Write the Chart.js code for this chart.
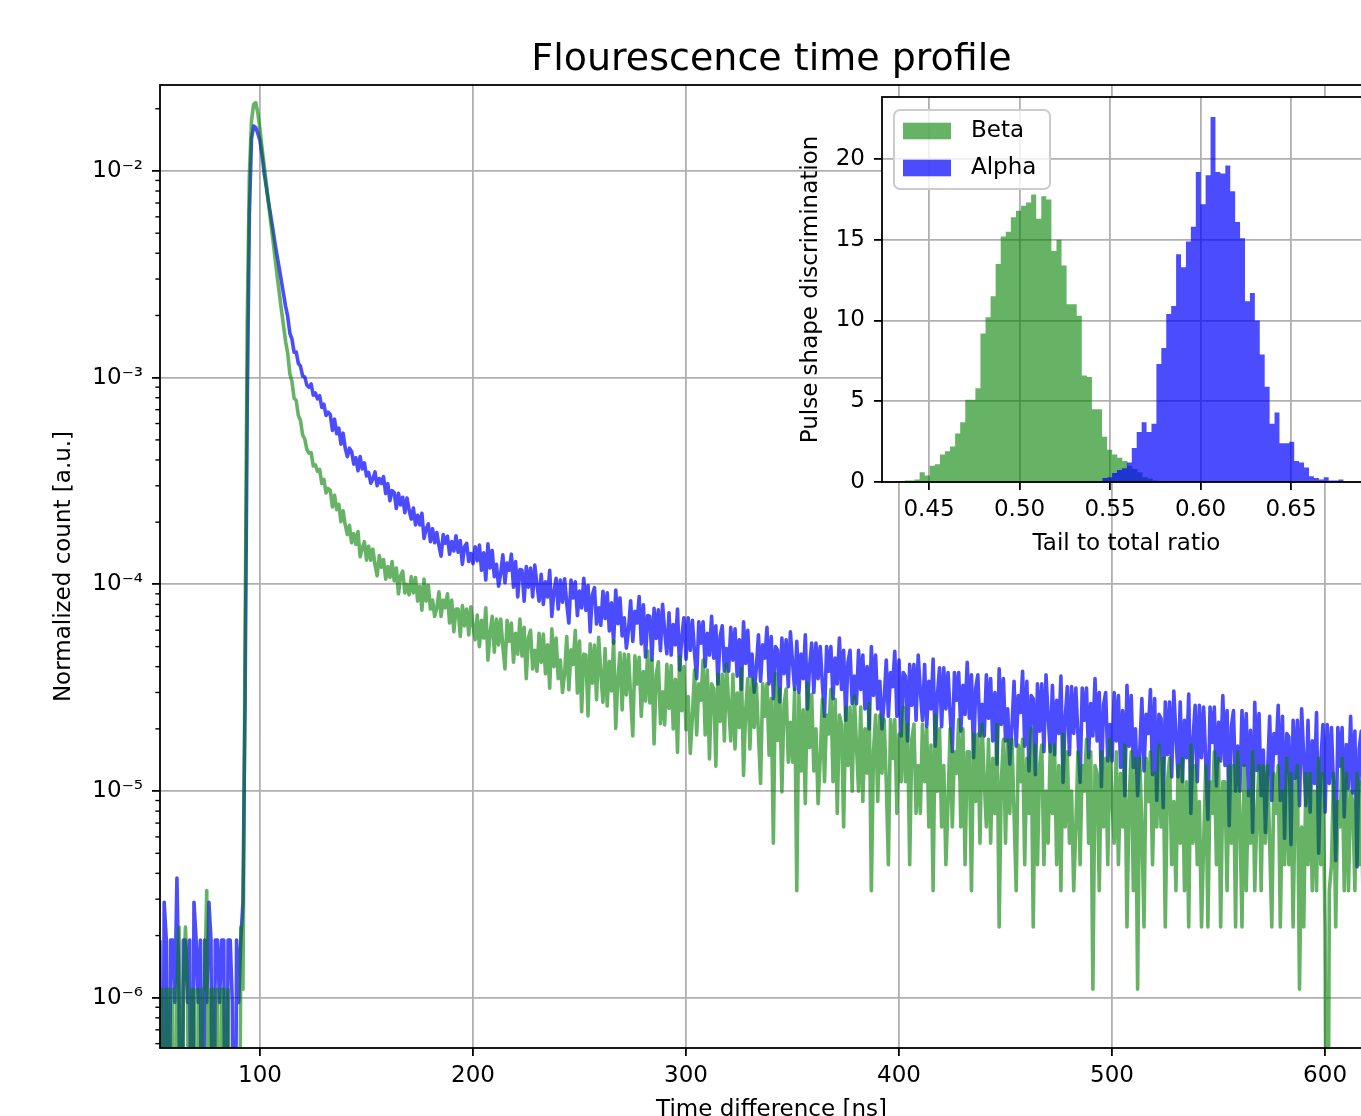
<!DOCTYPE html>
<html>
<head>
<meta charset="utf-8">
<title>Flourescence time profile</title>
<script src="https://cdn.jsdelivr.net/npm/chart.js@4.4.1/dist/chart.umd.min.js"></script>
<style>
  html, body { margin: 0; padding: 0; overflow: hidden; background: #fff; }
  #wrap { position: relative; width: 1400px; height: 1140px; }
  #mainChart { position: absolute; left: 0; top: 0; }
  #insetChart { position: absolute; left: 700px; top: 0; }
</style>
</head>
<body>
<div id="wrap">
  <canvas id="mainChart" width="1400" height="1140"></canvas>
  <canvas id="insetChart" width="700" height="600"></canvas>
</div>
<script>
// Time profile: 1 ns bins starting at 53 ns, values in units of 1e-6 (normalized count)
const timeStartNs = 53;
const timeBinNs = 1;

const betaProfile = [
  0, 1.1, 0, 1.1, 1.1, 0, 1.1, 0, 1.1, 2.2,
  0, 1.1, 2.2, 1.1, 0, 1.1, 1.1, 0, 1.1, 0,
  1.1, 1.1, 3.3, 0, 1.1, 1.1, 0, 1.1, 0, 1.1,
  1.1, 0, 1.1, 0, 0, 0, 0, 0, 2.2, 1.1,
  55, 1800, 9500, 17500, 21000, 21400, 19000, 15800, 12800, 10500,
  8600, 7000, 5700, 4700, 3850, 3150, 2600, 2150, 1800, 1500,
  1314, 1047, 957, 795, 776, 656, 621, 529, 505, 450,
  431, 434, 374, 379, 352, 360, 308, 322, 277, 291,
  285, 237, 270, 230, 244, 201, 227, 194, 174, 193,
  159, 176, 156, 180, 136, 150, 161, 131, 153, 131,
  148, 124, 110, 138, 121, 132, 106, 122, 108, 129,
  104, 120, 90, 110, 116, 91, 100, 89, 109, 91,
  108, 83, 98, 75, 106, 83, 99, 76, 84, 70,
  77, 92, 70, 84, 77, 90, 65, 84, 59, 76,
  76, 56, 79, 63, 76, 57, 78, 63, 54, 71,
  50, 67, 55, 77, 43, 58, 70, 47, 68, 51,
  68, 50, 39, 67, 53, 65, 42, 58, 46, 68,
  45, 62, 35, 55, 60, 39, 48, 38, 58, 42,
  57.5, 37, 51, 31.5, 61, 40, 55, 35, 43, 30,
  36.9, 55.9, 30.9, 48.3, 41, 59.9, 29.8, 53.2, 24.2, 46,
  45.6, 23.1, 51.6, 33.3, 50.9, 27.7, 55.4, 37, 26.9, 48.9,
  25.8, 42.4, 30.5, 53.3, 20.1, 35, 46.7, 24.7, 46, 29.2,
  45.8, 28.6, 18.5, 45.1, 33, 44.4, 23, 37.9, 27.3, 47.6,
  26.7, 43.1, 16.9, 36.6, 42.2, 21.2, 30.2, 20.9, 41.1, 25.1,
  40.5, 20, 34.7, 15.4, 44.8, 24.5, 40, 19.8, 28.7, 15.2,
  23, 38.5, 18.7, 33, 27.5, 43, 18.7, 38.5, 14.3, 33,
  31.3, 13.2, 36.7, 21.7, 36.7, 17.5, 41, 26, 17.5, 36.7,
  16, 29.8, 20.3, 39.2, 11.9, 24.5, 35, 16, 35, 20.3,
  33, 19, 10.9, 33, 23, 33, 14.9, 28, 5.6, 37,
  17.6, 31.2, 9.9, 26.3, 31.2, 13.8, 21.5, 13.8, 31.2, 3.3,
  29.4, 12.5, 24.7, 8.7, 33.2, 16.2, 29.4, 12.5, 20, 8.7,
  14.4, 27.8, 11.1, 23.3, 18.9, 31.1, 11.1, 27.8, 7.8, 23.3,
  21.1, 6.7, 25.5, 13.3, 25.5, 10, 28.9, 16.7, 10, 25.5,
  8.9, 20, 12.2, 26.6, 3.3, 15.5, 23.3, 8.9, 23.3, 12.2,
  22.2, 11.1, 4.4, 22.2, 14.4, 22.2, 7.8, 18.9, 11.1, 25.5,
  11.1, 21.1, 4.4, 17.8, 21.1, 7.8, 13.3, 7.8, 21.1, 11.1,
  20, 6.7, 16.7, 3.3, 23.3, 10, 20, 6.7, 13.3, 4.4,
  8.9, 20, 6.7, 15.5, 12.2, 22.2, 6.7, 20, 4.4, 15.5,
  15.5, 3.3, 18.9, 8.9, 18.9, 5.6, 21.1, 11.1, 6.7, 17.8,
  5.6, 14.4, 7.8, 21.1, 2.2, 11.1, 17.8, 5.6, 17.8, 7.8,
  17.8, 7.8, 3.3, 16.7, 11.1, 17.8, 4.4, 14.4, 7.8, 20,
  2.2, 16.7, 4.4, 13.3, 16.7, 4.4, 10, 5.6, 16.7, 7.8,
  16.7, 4.4, 13.3, 3.3, 18.9, 6.7, 15.5, 5.6, 10, 3.3,
  6.7, 15.5, 4.4, 13.3, 10, 17.8, 5.6, 15.5, 1.1, 13.3,
  12.2, 3.3, 15.5, 6.7, 14.4, 4.4, 17.8, 8.9, 5.6, 15.5,
  4.4, 12.2, 6.7, 16.7, 2.2, 8.9, 15.5, 3.3, 14.4, 1.1,
  14.4, 6.7, 2.2, 14.4, 8.9, 15.5, 4.4, 12.2, 6.7, 16.7,
  6.7, 14.4, 2.2, 11.1, 14.4, 4.4, 8.9, 3.3, 13.3, 5.6,
  14.4, 3.3, 11.1, 2.2, 16.7, 5.6, 13.3, 4.4, 8.9, 2.2,
  5.6, 13.3, 2.2, 11.1, 7.8, 15.5, 4.4, 14.4, 2.2, 11.1,
  11.1, 3.3, 13.3, 5.6, 13.3, 2.2, 15.5, 7.8, 2.2, 13.3,
  3.3, 10, 5.6, 15.5, 3.3, 7.8, 13.3, 3.3, 13.3, 5.6,
  13.3, 5.6, 2.2, 12.2, 7.8, 13.3, 2.2, 10, 4.4, 14.4,
  4.4, 12.2, 2.2, 10, 13.3, 1.1, 6.7, 2.2, 12.2, 4.4,
  12.2, 3.3, 10, 3.3, 14.4, 4.4, 12.2, 2.2, 0, 3.3,
  4.4, 12.2, 2.2, 8.9, 6.7, 14.4, 3.3, 12.2, 3.3, 10,
  8.9, 3.3, 12.2, 4.4, 11.1, 2.2, 14.4, 6.7
];

const alphaProfile = [
  1.9, 0, 2.9, 1.9, 0, 1.9, 1.9, 0.95, 3.8, 0.95,
  0, 1.9, 1.9, 0.95, 1.9, 0, 2.9, 1.9, 0.95, 1.9,
  0, 1.9, 0.95, 2.9, 1.9, 0, 1.9, 1.9, 0.95, 1.9,
  1.9, 0, 1.9, 1.9, 0.95, 0, 1.9, 0.95, 1.9, 2.9,
  28, 720, 6100, 14300, 16500, 16200, 15200, 14000, 11800, 9700,
  8300, 7050, 6100, 5250, 4500, 3900, 3400, 2950, 2560, 2220,
  1978, 1644, 1537, 1330, 1330, 1172, 1137, 1019, 1009, 920,
  899, 933, 822, 843, 790, 818, 718, 744, 656, 681,
  662, 556, 630, 536, 570, 477, 539, 457, 415, 456,
  440, 382, 410, 355, 415, 362, 387, 335, 348, 309,
  324, 350, 300, 325, 308, 332, 275, 307, 254, 284,
  278, 233, 276, 242, 264, 222, 262, 229, 207, 234,
  194, 216, 194, 221, 167, 186, 196, 161, 186, 159,
  178, 154, 137, 174, 158, 171, 140, 161, 145, 172,
  143, 163, 125, 152, 158, 129, 141, 126, 152, 130,
  155, 117, 142, 105, 157, 120, 146, 109, 125, 98,
  113, 139, 102, 127, 117, 140, 97, 129, 87, 118,
  117, 83, 122, 97, 120, 87, 124, 100, 83, 112,
  80, 103, 87, 117, 70, 92, 107, 76, 105, 82,
  106.5, 80.6, 65, 105, 86, 103, 70.7, 92.8, 77, 107,
  74.8, 98.8, 58.9, 88.8, 96.4, 64.3, 77, 63.4, 92.7, 68.4,
  91, 59.6, 81.4, 52, 94, 64.5, 86, 56.3, 69, 49.2,
  60.4, 83.4, 53, 74, 65, 87.3, 51.5, 79.7, 44.5, 70.7,
  70, 43, 76.6, 54.8, 75.3, 47.8, 80, 59, 46.2, 72.8,
  45.5, 64, 51, 76, 38.5, 55.5, 69, 43.5, 69, 48,
  67, 46.5, 35, 66, 52, 66, 40, 58, 45.5, 70,
  44, 63, 33, 56, 63, 38, 49, 38, 62, 43,
  61, 36, 54, 31, 66, 41.5, 60, 36, 46, 30,
  39.5, 57, 34, 51, 44, 62, 33, 56, 28, 50,
  48, 27, 55, 37, 54, 32, 59, 42, 31, 53,
  30, 46, 35, 57, 25, 40, 52, 30, 52, 35,
  50, 33, 23, 50, 38, 50, 28, 44, 33, 55,
  31, 48, 22, 42, 48, 26.5, 36, 26.5, 48, 31,
  45.5, 25, 40, 20, 50, 29, 45.5, 25, 34, 20,
  27.5, 43, 23, 37.5, 32, 47.5, 23, 43, 18.5, 37.5,
  36, 17.5, 41, 26, 41, 22, 45.5, 30.5, 22, 41,
  20.5, 34, 25, 43.5, 16.5, 29, 39.5, 20.5, 39.5, 25,
  37.5, 23.5, 15.5, 37.5, 27.5, 37.5, 19.5, 32.5, 23.5, 42,
  22.5, 36.5, 14.5, 31.5, 36.5, 18.5, 26.3, 18.5, 36.5, 22.5,
  35, 17.5, 30, 13.5, 39, 21, 35, 17.5, 25, 13.5,
  20.5, 34, 16.5, 29, 24, 38, 16.5, 34, 12.5, 29,
  28, 12, 33, 19.5, 33, 15.5, 36.5, 23, 15.5, 32.5,
  15, 27.5, 19, 36, 11, 22.5, 32, 15, 32, 19,
  31.5, 18.5, 11, 31.5, 22, 31.5, 14.5, 26.5, 18.5, 35,
  17.5, 30, 10.5, 26, 30, 14, 21, 14, 30, 17.5,
  29, 13, 24.5, 9.5, 32.5, 16.5, 29, 13, 20, 9.5,
  15.5, 28, 12.5, 23.5, 19, 31, 12, 28, 9, 23.5,
  22.5, 8.3, 27, 15, 27, 11.7, 30.5, 18.5, 11.7, 27,
  11.1, 22, 14.5, 29.5, 7.8, 17.8, 26, 11.1, 26, 14.5,
  25.5, 14, 7.3, 25.5, 17.2, 25.5, 10.6, 21.5, 14, 29,
  13.3, 24.5, 6.8, 20.5, 24.5, 10, 16.5, 10, 24.5, 13.3,
  23.7, 9.5, 19.7, 6.3, 26.9, 12.6, 23.7, 9.5, 15.8, 6.3,
  12.1, 23, 9, 19, 15.2, 26, 9, 23, 5.9, 19,
  18.3, 5.5, 22, 11.5, 22, 8.5, 25, 14.5, 8.5, 22,
  7.9, 17.5, 10.9, 24, 5, 13.8, 21, 7.9, 21, 10.9,
  20.3, 10.3, 4.6, 20.3, 13.2, 20.3, 7.5, 16.8, 10.3, 23,
  9.8, 19.5, 4.3, 16, 19.5, 7.1, 12.6, 7.1
];

const timeTickValues = [100, 200, 300, 400, 500, 600];
const countTickValues = [1, 10, 100, 1000, 10000];
const countTickLabels = ['10⁻⁶', '10⁻⁵', '10⁻⁴', '10⁻³', '10⁻²'];

// Inset: tail-to-total histograms (bin start, bin width, heights)
const betaRatioStart = 0.4364;
const betaRatioBin = 0.0028;
const betaHist = [
  0.3, 0.1, 0.1, 0.15, 0.6, 0.4, 1.0, 1.1, 1.7, 1.9,
  2.2, 3.0, 3.7, 5.1, 5.1, 5.8, 9.2, 10.2, 11.5, 13.5,
  15.2, 15.5, 16.4, 16.8, 17.1, 17.3, 17.8, 16.3, 17.7, 17.5,
  14.3, 15.0, 13.4, 11.0, 11.0, 10.3, 6.6, 6.5, 4.5, 4.5,
  2.8, 2.0, 1.7, 1.5, 1.3, 1.0, 0.8, 0.6, 0.3, 0.2, 0.1
];
const alphaRatioStart = 0.5457;
const alphaRatioBin = 0.00272;
const alphaHist = [
  0.45, 0.25, 0.3, 0.55, 0.75, 0.85, 1.2, 2.1, 3.1, 3.7,
  3.1, 3.6, 7.3, 8.3, 10.4, 10.9, 14.1, 13.3, 14.9, 15.8,
  19.2, 17.2, 19.0, 22.6, 19.2, 19.1, 19.6, 18.0, 16.1, 15.1,
  11.2, 11.7, 10.0, 7.9, 5.9, 3.6, 4.3, 2.4, 2.4, 2.5,
  1.3, 1.2, 0.9, 0.35, 0.25, 0.15, 0.3, 0.1, 0.1, 0.15
];
const ratioTickValues = [0.45, 0.5, 0.55, 0.6, 0.65];
const psdTickValues = [0, 5, 10, 15, 20];

// colours
const betaColor = 'rgba(0, 128, 0, 0.6)';
const alphaColor = 'rgba(0, 0, 255, 0.7)';
const gridGray = '#b0b0b0';

Chart.defaults.font.family = 'DejaVu Sans';
Chart.defaults.font.size = 23;
Chart.defaults.color = '#000';

// zero counts sit below the log axis (like matplotlib clipping them)
const zeroFloor = 0.01;

function profilePoints(values) {
  return values.map((v, i) => ({ x: timeStartNs + i * timeBinNs, y: v > 0 ? v : zeroFloor }));
}

function histPoints(heights, start, width) {
  const pts = heights.map((h, i) => ({ x: start + i * width, y: h }));
  pts.push({ x: start + heights.length * width, y: 0 });
  return pts;
}

const framePlugin = {
  id: 'frame',
  afterDraw(chart) {
    const { ctx, chartArea: a } = chart;
    ctx.save();
    ctx.strokeStyle = '#000';
    ctx.lineWidth = 1.8;
    ctx.strokeRect(a.left, a.top, a.right - a.left, a.bottom - a.top);
    ctx.restore();
  }
};

// short minor tick marks on the log axis
const minorTickPlugin = {
  id: 'minorTicks',
  afterDraw(chart) {
    const y = chart.scales.y;
    const ctx = chart.ctx;
    ctx.save();
    ctx.strokeStyle = '#000';
    ctx.lineWidth = 1.4;
    y.ticks.forEach(t => {
      if (countTickValues.includes(t.value)) return;
      const py = y.getPixelForValue(t.value);
      ctx.beginPath();
      ctx.moveTo(y.right - 4.6, py);
      ctx.lineTo(y.right, py);
      ctx.stroke();
    });
    ctx.restore();
  }
};

new Chart(document.getElementById('mainChart'), {
  type: 'line',
  data: {
    datasets: [
      {
        label: 'Beta',
        data: profilePoints(betaProfile),
        borderColor: betaColor,
        borderWidth: 3.6,
        borderJoinStyle: 'round',
        pointRadius: 0,
        tension: 0
      },
      {
        label: 'Alpha',
        data: profilePoints(alphaProfile),
        borderColor: alphaColor,
        borderWidth: 3.6,
        borderJoinStyle: 'round',
        pointRadius: 0,
        tension: 0
      }
    ]
  },
  options: {
    responsive: false,
    animation: false,
    events: [],
    layout: { padding: { left: 0, right: 17, top: 0, bottom: 0 } },
    plugins: {
      legend: { display: false },
      tooltip: { enabled: false },
      title: {
        display: true,
        fullSize: false,
        text: 'Flourescence time profile',
        color: '#000',
        font: { size: 38, weight: 'normal' },
        padding: { top: 37, bottom: 2.4 }
      }
    },
    scales: {
      x: {
        type: 'linear',
        min: 53.05,
        max: 627.2,
        afterBuildTicks: s => { s.ticks = timeTickValues.map(v => ({ value: v })); },
        afterFit: s => { s.height = 92; },
        border: { display: false },
        grid: { color: gridGray, lineWidth: 1.8, tickColor: '#000', tickLength: 8, tickWidth: 1.8 },
        ticks: { padding: 6, maxRotation: 0, autoSkip: false, callback: v => String(v) },
        title: { display: true, text: 'Time difference [ns]', padding: { top: 0, bottom: 16.5 } }
      },
      y: {
        type: 'logarithmic',
        min: 0.5716,
        max: 26060,
        afterBuildTicks: s => {
          const ticks = [];
          for (let e = -1; e <= 4; e++) {
            for (let k = 1; k <= 9; k++) {
              const v = k * Math.pow(10, e);
              if (v >= s.min && v <= s.max) ticks.push({ value: v });
            }
          }
          s.ticks = ticks;
        },
        afterFit: s => { s.width = 160; },
        border: { display: false },
        grid: {
          color: c => countTickValues.includes(c.tick.value) ? gridGray : 'rgba(0,0,0,0)',
          tickColor: c => countTickValues.includes(c.tick.value) ? '#000' : 'rgba(0,0,0,0)',
          lineWidth: 1.8,
          tickLength: 8,
          tickWidth: 1.8
        },
        ticks: {
          padding: 9,
          autoSkip: false,
          callback: v => {
            const i = countTickValues.indexOf(v);
            return i >= 0 ? countTickLabels[i] : '';
          }
        },
        title: { display: true, text: 'Normalized count [a.u.]', padding: { top: 50, bottom: 0 } }
      }
    }
  },
  plugins: [framePlugin, minorTickPlugin]
});

// inset: white axes background
const insetBackground = {
  id: 'insetBackground',
  beforeDraw(chart) {
    const { ctx, chartArea: a } = chart;
    ctx.save();
    ctx.fillStyle = '#fff';
    ctx.fillRect(a.left, a.top, a.right - a.left, a.bottom - a.top);
    ctx.restore();
  }
};

const insetLegend = {
  id: 'insetLegend',
  afterDraw(chart) {
    const { ctx, chartArea: a } = chart;
    const x0 = a.left + 12, y0 = a.top + 13, w = 156, h = 79;
    ctx.save();
    ctx.beginPath();
    ctx.roundRect(x0, y0, w, h, 6);
    ctx.fillStyle = 'rgba(255,255,255,0.8)';
    ctx.fill();
    ctx.strokeStyle = '#cccccc';
    ctx.lineWidth = 2;
    ctx.stroke();
    ctx.font = '23px "DejaVu Sans"';
    ctx.textBaseline = 'middle';
    chart.data.datasets.forEach((ds, i) => {
      const cy = y0 + 21 + i * 37;
      ctx.fillStyle = ds.backgroundColor;
      ctx.fillRect(x0 + 9, cy - 8.3, 48, 16.6);
      ctx.fillStyle = '#000';
      ctx.fillText(ds.label, x0 + 77, cy);
    });
    ctx.restore();
  }
};

new Chart(document.getElementById('insetChart'), {
  type: 'line',
  data: {
    datasets: [
      {
        label: 'Beta',
        data: histPoints(betaHist, betaRatioStart, betaRatioBin),
        stepped: 'after',
        fill: 'origin',
        backgroundColor: betaColor,
        borderColor: 'rgba(0,0,0,0)',
        borderWidth: 1,
        pointRadius: 0,
        order: 1
      },
      {
        label: 'Alpha',
        data: histPoints(alphaHist, alphaRatioStart, alphaRatioBin),
        stepped: 'after',
        fill: 'origin',
        backgroundColor: alphaColor,
        borderColor: 'rgba(0,0,0,0)',
        borderWidth: 1,
        pointRadius: 0,
        order: 0
      }
    ]
  },
  options: {
    responsive: false,
    animation: false,
    events: [],
    layout: { padding: { left: 0, right: 29, top: 97, bottom: 0 } },
    plugins: { legend: { display: false }, tooltip: { enabled: false } },
    scales: {
      x: {
        type: 'linear',
        min: 0.424,
        max: 0.6942,
        z: 1,
        afterBuildTicks: s => { s.ticks = ratioTickValues.map(v => ({ value: v })); },
        afterFit: s => { s.height = 118; },
        border: { display: false },
        grid: { color: gridGray, lineWidth: 1.8, tickColor: '#000', tickLength: 8, tickWidth: 1.8 },
        ticks: { padding: 6, maxRotation: 0, autoSkip: false, callback: v => v.toFixed(2) },
        title: { display: true, text: 'Tail to total ratio', padding: { top: 0, bottom: 41.7 } }
      },
      y: {
        type: 'linear',
        min: 0,
        max: 23.84,
        z: 1,
        afterBuildTicks: s => { s.ticks = psdTickValues.map(v => ({ value: v })); },
        afterFit: s => { s.width = 182; },
        border: { display: false },
        grid: { color: gridGray, lineWidth: 1.8, tickColor: '#000', tickLength: 8, tickWidth: 1.8 },
        ticks: { padding: 9, autoSkip: false, callback: v => String(v) },
        title: { display: true, text: 'Pulse shape discrimination', padding: { top: 97, bottom: 0 } }
      }
    }
  },
  plugins: [insetBackground, framePlugin, insetLegend]
});
</script>
</body>
</html>
